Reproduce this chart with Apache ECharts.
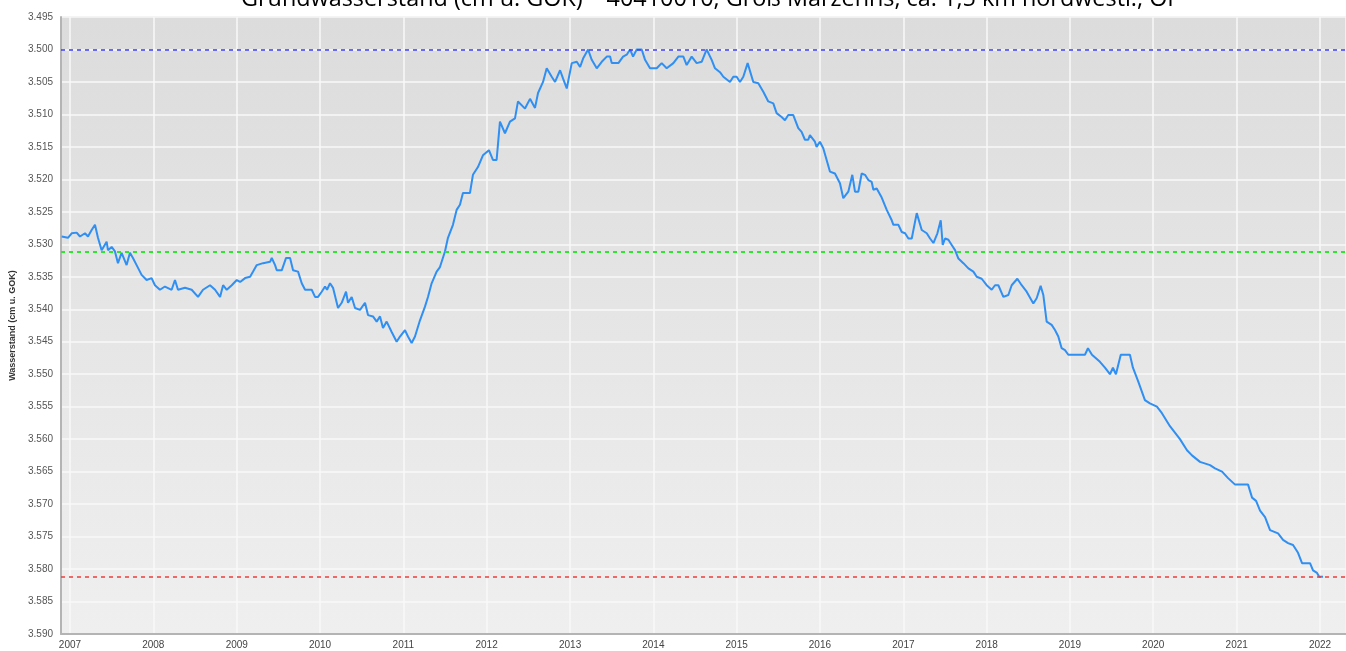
<!DOCTYPE html>
<html>
<head>
<meta charset="utf-8">
<title>Grundwasserstand 40410010</title>
<script src="https://cdn.jsdelivr.net/npm/echarts@6/dist/echarts.min.js"></script>
<style>
    html, body { margin: 0; padding: 0; background: #fff; }
    #main { width: 1346px; height: 651px; }
</style>
</head>
<body>
<div id="main"></div>
<script>
// Messwerte: Zeitpunkt als Dezimaljahr, Wasserstand in m u. GOK
var years = [
    2006.900, 2006.976, 2007.020, 2007.080, 2007.120, 2007.180, 2007.216, 2007.260, 2007.300, 2007.336,
    2007.380, 2007.440, 2007.456, 2007.500, 2007.540, 2007.576, 2007.620, 2007.680, 2007.720, 2007.756,
    2007.800, 2007.860, 2007.920, 2007.980, 2008.020, 2008.080, 2008.140, 2008.220, 2008.260, 2008.296,
    2008.380, 2008.460, 2008.536, 2008.596, 2008.680, 2008.740, 2008.800, 2008.836, 2008.880, 2008.940,
    2009.000, 2009.040, 2009.100, 2009.160, 2009.196, 2009.240, 2009.316, 2009.400, 2009.420, 2009.460,
    2009.480, 2009.540, 2009.592, 2009.640, 2009.676, 2009.736, 2009.780, 2009.820, 2009.900, 2009.940,
    2009.976, 2010.020, 2010.060, 2010.084, 2010.120, 2010.156, 2010.216, 2010.260, 2010.312, 2010.336,
    2010.380, 2010.420, 2010.480, 2010.540, 2010.576, 2010.636, 2010.680, 2010.720, 2010.756, 2010.800,
    2010.860, 2010.920, 2010.960, 2011.020, 2011.056, 2011.100, 2011.140, 2011.200, 2011.260, 2011.296,
    2011.340, 2011.400, 2011.440, 2011.500, 2011.536, 2011.596, 2011.640, 2011.680, 2011.716, 2011.800,
    2011.836, 2011.896, 2011.956, 2012.028, 2012.076, 2012.120, 2012.160, 2012.220, 2012.280, 2012.340,
    2012.376, 2012.460, 2012.520, 2012.580, 2012.616, 2012.676, 2012.720, 2012.780, 2012.820, 2012.880,
    2012.916, 2012.960, 2013.020, 2013.080, 2013.120, 2013.156, 2013.216, 2013.260, 2013.320, 2013.380,
    2013.440, 2013.480, 2013.500, 2013.580, 2013.636, 2013.680, 2013.720, 2013.756, 2013.800, 2013.860,
    2013.900, 2013.960, 2014.040, 2014.100, 2014.160, 2014.240, 2014.300, 2014.360, 2014.400, 2014.460,
    2014.520, 2014.580, 2014.640, 2014.700, 2014.740, 2014.800, 2014.840, 2014.920, 2014.960, 2015.000,
    2015.040, 2015.080, 2015.132, 2015.200, 2015.260, 2015.320, 2015.380, 2015.440, 2015.480, 2015.540,
    2015.580, 2015.620, 2015.680, 2015.740, 2015.780, 2015.820, 2015.860, 2015.880, 2015.940, 2015.960,
    2016.000, 2016.040, 2016.120, 2016.180, 2016.240, 2016.280, 2016.340, 2016.388, 2016.420, 2016.460,
    2016.500, 2016.540, 2016.580, 2016.620, 2016.640, 2016.680, 2016.740, 2016.800, 2016.860, 2016.880,
    2016.940, 2016.980, 2017.020, 2017.060, 2017.100, 2017.160, 2017.220, 2017.280, 2017.320, 2017.360,
    2017.408, 2017.448, 2017.472, 2017.500, 2017.540, 2017.580, 2017.620, 2017.660, 2017.720, 2017.780,
    2017.840, 2017.880, 2017.940, 2018.000, 2018.060, 2018.100, 2018.140, 2018.200, 2018.260, 2018.300,
    2018.368, 2018.420, 2018.480, 2018.560, 2018.600, 2018.648, 2018.680, 2018.720, 2018.780, 2018.820,
    2018.860, 2018.900, 2018.940, 2018.980, 2019.180, 2019.216, 2019.264, 2019.360, 2019.420, 2019.480,
    2019.516, 2019.552, 2019.610, 2019.720, 2019.756, 2019.816, 2019.900, 2019.960, 2020.044, 2020.104,
    2020.200, 2020.320, 2020.404, 2020.464, 2020.560, 2020.680, 2020.740, 2020.824, 2020.896, 2020.980,
    2021.136, 2021.184, 2021.232, 2021.280, 2021.340, 2021.400, 2021.496, 2021.556, 2021.616, 2021.676,
    2021.736, 2021.784, 2021.880, 2021.916, 2021.964, 2021.990, 2022.036
];
var levels = [
    3.5288, 3.5290, 3.5283, 3.5282, 3.5288, 3.5283, 3.5288, 3.5278, 3.5270, 3.5290,
    3.5309, 3.5296, 3.5309, 3.5304, 3.5311, 3.5329, 3.5313, 3.5332, 3.5313, 3.5321,
    3.5332, 3.5347, 3.5355, 3.5352, 3.5363, 3.5370, 3.5365, 3.5370, 3.5355, 3.5370,
    3.5367, 3.5370, 3.5381, 3.5370, 3.5363, 3.5370, 3.5381, 3.5363, 3.5370, 3.5363,
    3.5355, 3.5358, 3.5352, 3.5350, 3.5342, 3.5332, 3.5329, 3.5327, 3.5321, 3.5332,
    3.5340, 3.5340, 3.5321, 3.5321, 3.5340, 3.5342, 3.5360, 3.5370, 3.5370, 3.5381,
    3.5381, 3.5373, 3.5365, 3.5370, 3.5360, 3.5367, 3.5398, 3.5390, 3.5373, 3.5390,
    3.5381, 3.5398, 3.5401, 3.5390, 3.5409, 3.5411, 3.5419, 3.5411, 3.5429, 3.5419,
    3.5435, 3.5450, 3.5442, 3.5432, 3.5442, 3.5452, 3.5442, 3.5417, 3.5396, 3.5381,
    3.5360, 3.5342, 3.5335, 3.5311, 3.5290, 3.5270, 3.5247, 3.5239, 3.5221, 3.5221,
    3.5193, 3.5181, 3.5163, 3.5155, 3.5170, 3.5170, 3.5111, 3.5129, 3.5111, 3.5106,
    3.5080, 3.5091, 3.5076, 3.5090, 3.5067, 3.5050, 3.5029, 3.5042, 3.5050, 3.5032,
    3.5045, 3.5060, 3.5021, 3.5019, 3.5027, 3.5014, 3.5000, 3.5016, 3.5029, 3.5019,
    3.5011, 3.5011, 3.5021, 3.5021, 3.5011, 3.5008, 3.5000, 3.5011, 3.5000, 3.5000,
    3.5016, 3.5029, 3.5029, 3.5021, 3.5029, 3.5021, 3.5011, 3.5011, 3.5024, 3.5011,
    3.5021, 3.5019, 3.5000, 3.5016, 3.5029, 3.5035, 3.5042, 3.5050, 3.5042, 3.5042,
    3.5050, 3.5042, 3.5021, 3.5050, 3.5052, 3.5065, 3.5080, 3.5083, 3.5098, 3.5104,
    3.5109, 3.5101, 3.5101, 3.5121, 3.5127, 3.5139, 3.5139, 3.5132, 3.5142, 3.5150,
    3.5142, 3.5152, 3.5188, 3.5191, 3.5206, 3.5229, 3.5219, 3.5193, 3.5219, 3.5219,
    3.5191, 3.5193, 3.5201, 3.5204, 3.5216, 3.5214, 3.5228, 3.5247, 3.5263, 3.5270,
    3.5270, 3.5281, 3.5283, 3.5291, 3.5291, 3.5252, 3.5278, 3.5283, 3.5291, 3.5298,
    3.5283, 3.5263, 3.5301, 3.5291, 3.5293, 3.5301, 3.5309, 3.5322, 3.5329, 3.5337,
    3.5342, 3.5350, 3.5353, 3.5363, 3.5370, 3.5363, 3.5363, 3.5381, 3.5378, 3.5363,
    3.5353, 3.5363, 3.5373, 3.5391, 3.5383, 3.5364, 3.5378, 3.5419, 3.5424, 3.5432,
    3.5442, 3.5460, 3.5463, 3.5470, 3.5470, 3.5460, 3.5470, 3.5481, 3.5490, 3.5500,
    3.5490, 3.5500, 3.5470, 3.5470, 3.5490, 3.5510, 3.5540, 3.5545, 3.5550, 3.5560,
    3.5580, 3.5600, 3.5617, 3.5625, 3.5635, 3.5640, 3.5645, 3.5650, 3.5660, 3.5670,
    3.5670, 3.5690, 3.5695, 3.5710, 3.5720, 3.5740, 3.5745, 3.5755, 3.5760, 3.5763,
    3.5775, 3.5791, 3.5791, 3.5802, 3.5806, 3.5812, 3.5812
];
// Referenzlinien (blau, gruen, rot)
var refLevels = [3.5000, 3.5311, 3.5812];
var refColors = ['#3b3bf5', '#2ee62e', '#f03c3c'];

var titleText = 'Grundwasserstand (cm u. GOK) – 40410010, Groß Marzehns, ca. 1,5 km nordwestl., OF';
var yMin = 3.495, yMax = 3.590, yStep = 0.005;
var xStart = 2006.892, xEnd = 2022.312;

// Dezimaljahr -> Zeitstempel
function toTime(y) {
    var j = Math.floor(y);
    var a = new Date(j, 0, 1).getTime();
    var b = new Date(j + 1, 0, 1).getTime();
    return a + (y - j) * (b - a);
}

var seriesData = years.map(function (y, i) {
    return [toTime(y), levels[i]];
});

var chartDom = document.getElementById('main');
var myChart = echarts.init(chartDom);

var option = {
    animation: false,
    title: {
        text: titleText,
        left: 236,
        top: -17,
        textStyle: {
            fontFamily: 'Open Sans',
            fontSize: 23.4,
            fontWeight: 'normal',
            color: '#000'
        }
    },
    grid: {
        left: 61,
        right: 0,
        top: 17,
        bottom: 17,
        show: true,
        borderColor: '#cfcfcf',
        borderWidth: 1,
        backgroundColor: new echarts.graphic.LinearGradient(0, 0, 0, 1, [
            { offset: 0, color: '#dcdcdc' },
            { offset: 1, color: '#efefef' }
        ])
    },
    xAxis: {
        type: 'time',
        min: toTime(xStart),
        max: toTime(xEnd),
        splitNumber: 15,
        minInterval: 365 * 864e5,
        maxInterval: 366 * 864e5,
        axisLine: { show: true, lineStyle: { color: '#b4b4b4', width: 2 } },
        axisTick: { show: false },
        axisLabel: {
            formatter: '{yyyy}',
            showMinLabel: false,
            showMaxLabel: false,
            fontFamily: 'Liberation Sans',
            fontSize: 10,
            color: '#444',
            margin: 6
        },
        splitLine: { show: true, lineStyle: { color: '#f8f8f8', width: 1.5 } }
    },
    yAxis: {
        type: 'value',
        inverse: true,
        min: yMin,
        max: yMax,
        interval: yStep,
        name: 'Wasserstand (cm u. GOK)',
        nameLocation: 'middle',
        nameGap: 44,
        nameTextStyle: {
            fontFamily: 'Liberation Sans',
            fontSize: 9,
            fontWeight: 'bold',
            color: '#333'
        },
        axisLine: { show: true, lineStyle: { color: '#b4b4b4', width: 2 } },
        axisTick: { show: false },
        axisLabel: {
            formatter: function (v) { return v.toFixed(3); },
            fontFamily: 'Liberation Sans',
            fontSize: 10,
            color: '#555',
            margin: 8
        },
        splitLine: { show: true, lineStyle: { color: '#f8f8f8', width: 1.5 } }
    },
    series: [
        {
            type: 'line',
            data: seriesData,
            showSymbol: false,
            lineStyle: { color: '#2f8ff2', width: 2 },
            z: 3,
            markLine: {
                silent: true,
                symbol: 'none',
                precision: 4,
                label: { show: false },
                data: refLevels.map(function (v, i) {
                    return {
                        yAxis: v,
                        lineStyle: { color: refColors[i], type: [4, 4], width: i === 1 ? 2 : 1.5 }
                    };
                })
            }
        }
    ]
};

myChart.setOption(option);
</script>
</body>
</html>
